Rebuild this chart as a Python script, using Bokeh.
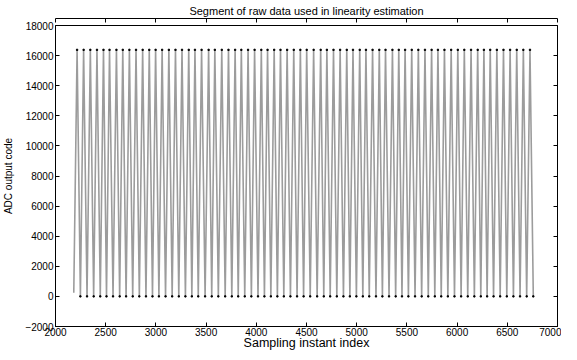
from bokeh.plotting import figure
from bokeh.models import Range1d, FixedTicker, LinearAxis, CustomJSTickFormatter, Title
from bokeh.embed import file_html
from bokeh.resources import INLINE

# Sample indices of the positive peaks
peak_idx = [2215, 2280, 2347, 2413, 2478, 2538, 2607, 2670, 2736, 2802, 2868, 2934,
            2997, 3062, 3129, 3195, 3260, 3327, 3389, 3455, 3525, 3587, 3656, 3723, 3789,
            3851, 3918, 3983, 4050, 4112, 4178, 4241, 4307, 4373, 4439, 4502, 4571,
            4641, 4703, 4769, 4835, 4901, 4963, 5030, 5092, 5158, 5225, 5287, 5356, 5419,
            5482, 5548, 5614, 5680, 5746, 5809, 5874, 5941, 6007, 6072, 6139, 6205, 6267,
            6330, 6396, 6462, 6528, 6594, 6660, 6726]
# Sample indices of the troughs
trough_idx = [2182, 2248, 2314, 2380, 2446, 2508, 2573, 2639, 2703, 2769, 2835, 2901,
              2966, 3030, 3096, 3162, 3228, 3294, 3358, 3422, 3490, 3556, 3622, 3690,
              3756, 3820, 3885, 3951, 4017, 4081, 4145, 4210, 4274, 4340, 4406, 4471,
              4537, 4606, 4672, 4736, 4802, 4868, 4932, 4997, 5061, 5125, 5192, 5256,
              5322, 5388, 5451, 5515, 5581, 5647, 5713, 5778, 5842, 5908, 5974, 6040,
              6106, 6172, 6236, 6299, 6363, 6429, 6495, 6561, 6627, 6693, 6759]
peak_code = 16383
trough_code = 0
start_code = 250

x_ticks = [2000, 2500, 3000, 3500, 4000, 4500, 5000, 5500, 6000, 6500, 7000]
y_ticks = [-2000, 0, 2000, 4000, 6000, 8000, 10000, 12000, 14000, 16000, 18000]

# Build the zig-zag raw-data trace: trough, peak, trough, peak, ...
xs, ys = [], []
for i, t in enumerate(trough_idx):
    xs.append(t)
    ys.append(start_code if i == 0 else trough_code)
    if i < len(peak_idx):
        xs.append(peak_idx[i])
        ys.append(peak_code)

FONT = "Liberation Sans"

p = figure(width=561, height=352, output_backend="svg", toolbar_location=None,
           x_range=Range1d(2000, 7000), y_range=Range1d(-2000, 18000),
           title="Segment of raw data used in linearity estimation",
           min_border_left=52, min_border_right=4, min_border_top=0, min_border_bottom=0)
p.background_fill_color = "white"
p.border_fill_color = "white"
p.outline_line_color = "black"
p.outline_line_width = 1
p.xgrid.visible = False
p.ygrid.visible = False

p.title.align = "center"
p.title.text_font = FONT
p.title.text_font_size = "11px"
p.title.text_font_style = "normal"
p.title.text_color = "black"
p.title.standoff = 4
# small spacer above the title
p.add_layout(Title(text=" ", text_font_size="4px", standoff=0), "above")

p.line(xs, ys, line_color="#9c9c9c", line_width=1.6)
p.scatter(peak_idx, [peak_code] * len(peak_idx), size=1.3, color="black", marker="square")
p.scatter(trough_idx[1:], [trough_code] * (len(trough_idx) - 1), size=1.3, color="black", marker="square")

for ax in (p.xaxis[0], p.yaxis[0]):
    ax.major_tick_in = 4
    ax.major_tick_out = 0
    ax.minor_tick_line_color = None
    ax.axis_line_color = "black"
    ax.major_tick_line_color = "black"
    ax.major_label_text_font = FONT
    ax.major_label_text_font_size = "10px"
    ax.major_label_text_color = "black"
    ax.axis_label_text_font = FONT
    ax.axis_label_text_font_style = "normal"
    ax.axis_label_text_color = "black"
    ax.major_label_standoff = 2

p.xaxis[0].ticker = FixedTicker(ticks=x_ticks)
p.yaxis[0].ticker = FixedTicker(ticks=y_ticks)
p.xaxis[0].major_label_standoff = 1
p.xaxis[0].axis_label = "Sampling instant index"
p.xaxis[0].axis_label_text_font_size = "12.5px"
p.xaxis[0].axis_label_standoff = -3
p.yaxis[0].axis_label = "ADC output code"
p.yaxis[0].axis_label_text_font_size = "10px"
p.yaxis[0].axis_label_standoff = 8

empty = CustomJSTickFormatter(code="return '';")
top = LinearAxis(ticker=FixedTicker(ticks=x_ticks), formatter=empty,
                 major_tick_in=4, major_tick_out=0, minor_tick_line_color=None,
                 major_label_standoff=0)
right = LinearAxis(ticker=FixedTicker(ticks=y_ticks), formatter=empty,
                   major_tick_in=4, major_tick_out=0, minor_tick_line_color=None,
                   major_label_standoff=0)
p.add_layout(top, "above")
p.add_layout(right, "right")

open("out.html", "w").write(file_html(p, INLINE))
